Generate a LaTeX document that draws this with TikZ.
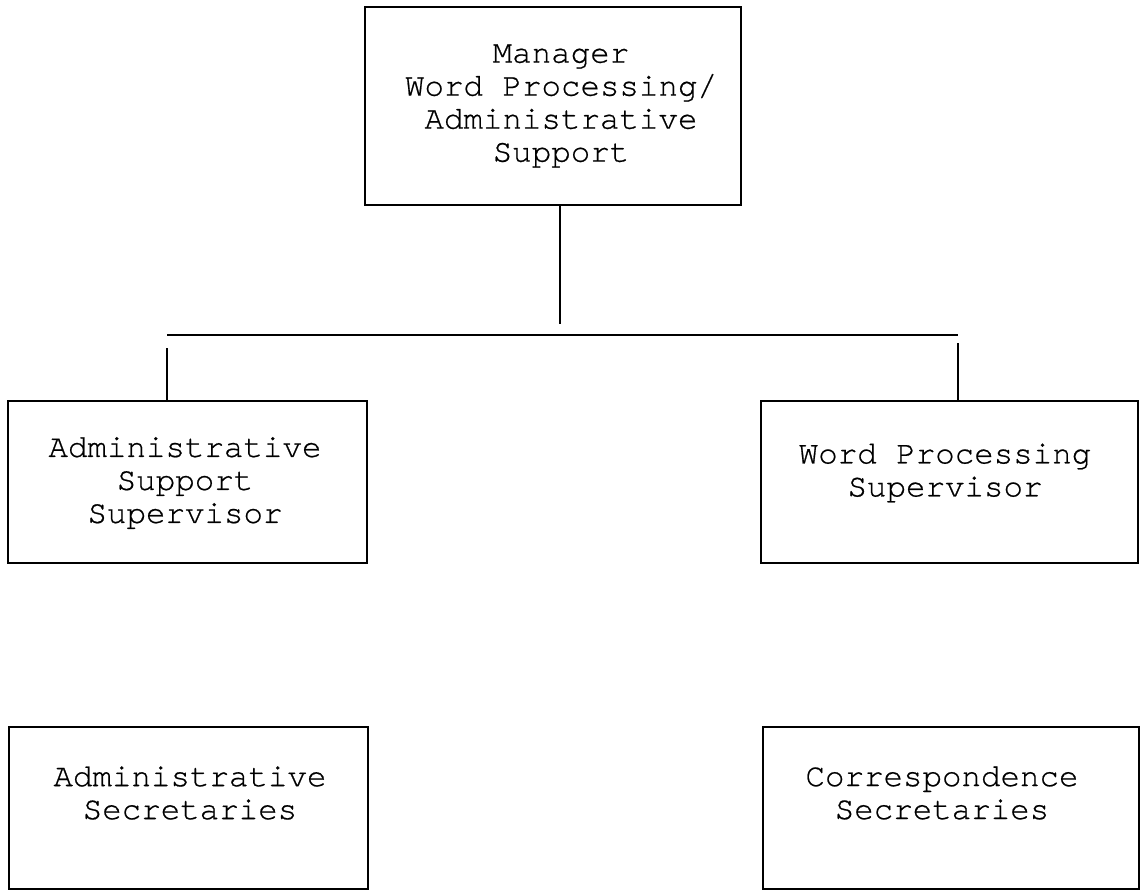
\documentclass[tikz,border=0pt]{standalone}
\usepackage{fontspec}
\newfontfamily\typewriter{texgyrecursor-regular.otf}[FakeBold=0.6]
\begin{document}
\begin{tikzpicture}[x=0.5pt,y=-0.5pt,line width=1.1pt,
  box/.style={draw,rectangle,inner sep=0pt},
  label/.style={align=center,inner sep=0pt,
    font=\typewriter\fontsize{16.25}{16.5}\selectfont}]
\useasboundingbox (0,0) rectangle (1141,891);
% boxes
\node[box,minimum width=188pt,minimum height=99pt] (mgr) at (553,106) {};
\node[label] (mgrtext) at (561,106) {Manager\\Word Processing/\\Administrative\\Support};
\node[box,minimum width=179.5pt,minimum height=81pt] (ass) at (187.5,482) {};
\node[label] (asstext) at (185,483) {Administrative\\Support\\Supervisor};
\node[box,minimum width=188.5pt,minimum height=81pt] (wps) at (949.5,482) {};
\node[label] (wpstext) at (945,473) {Word Processing\\Supervisor};
\node[box,minimum width=179.5pt,minimum height=81pt] (as) at (188.5,808) {};
\node[label] (astext) at (190,793) {Administrative\\Secretaries};
\node[box,minimum width=188pt,minimum height=81pt] (cs) at (951,808) {};
\node[label] (cstext) at (942,793) {Correspondence\\Secretaries};
% connectors
\coordinate (barmid) at (560,335);
\coordinate (barL) at (167,335);
\coordinate (barR) at (958,335);
\draw[shorten >=5.5pt] (mgr.south -| barmid) -- (barmid);
\draw (barL) -- (barR);
\draw[shorten <=6.5pt] (barL) -- (barL |- ass.north);
\draw[shorten <=4pt] (barR) -- (barR |- wps.north);
\end{tikzpicture}
\end{document}
